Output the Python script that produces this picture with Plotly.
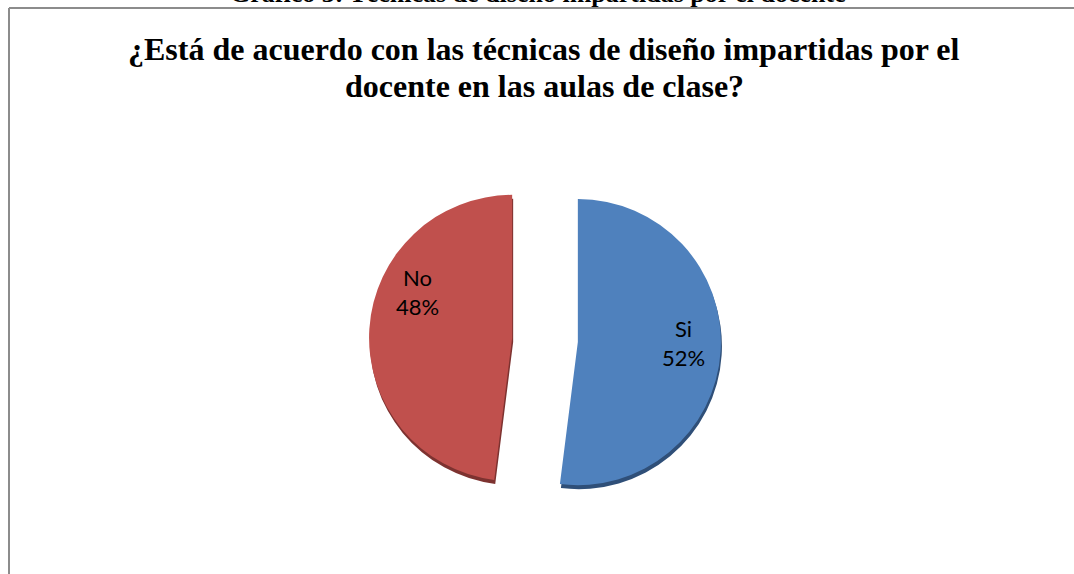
import plotly.graph_objects as go

labels = ["Si", "No"]
values = [52, 48]
colors = ["#4F81BD", "#C0504D"]
edge_colors = ["#2F4F78", "#7D3230"]
title_lines = ["¿Está de acuerdo con las técnicas de diseño impartidas por el",
               "docente en las aulas de clase?"]
caption = "Gráfico 3: Técnicas de diseño impartidas por el docente"

W, H = 1074, 574

def px_x(x):
    return x / W

def px_y(y):
    return 1 - y / H

# label anchor points (pixels) for each slice
label_pos = {"Si": (683, 343), "No": (417, 292)}

total = sum(values)
serif = "Liberation Serif, Times New Roman, serif"

fig = go.Figure()
# darker copy slightly lower: the 3D depth rim
fig.add_trace(go.Pie(
    labels=labels, values=values, sort=False, direction="clockwise", rotation=0,
    pull=[0.23, 0.23],
    marker=dict(colors=edge_colors, line=dict(width=0)),
    textinfo="none", hoverinfo="skip",
    domain=dict(x=[px_x(370), px_x(722)], y=[px_y(520), px_y(168)]),
    showlegend=False,
))
fig.add_trace(go.Pie(
    labels=labels, values=values, sort=False, direction="clockwise", rotation=0,
    pull=[0.23, 0.23],
    marker=dict(colors=colors, line=dict(width=0)),
    textinfo="none",
    domain=dict(x=[px_x(369), px_x(721)], y=[px_y(516), px_y(164)]),
    showlegend=False, hoverinfo="label+percent",
))

annotations = []
for i, t in enumerate(title_lines):
    annotations.append(dict(
        text="<b>" + t + "</b>", x=px_x(544), y=px_y([49, 86][i]), xref="paper", yref="paper",
        showarrow=False, font=dict(family=serif, size=32, color="#000"),
        xanchor="center", yanchor="middle"))
annotations.append(dict(
    text="<b>" + caption + "</b>", x=px_x(538), y=px_y(10), xref="paper", yref="paper",
    showarrow=False, font=dict(family=serif, size=26, color="#000"),
    xanchor="center", yanchor="bottom"))
for lab, v in zip(labels, values):
    x, y = label_pos[lab]
    annotations.append(dict(
        text=f"{lab}<br>{round(100 * v / total)}%", x=px_x(x), y=px_y(y), xref="paper", yref="paper",
        showarrow=False, font=dict(family="Lato, Noto Sans, sans-serif", size=22, color="#000"),
        xanchor="center", yanchor="middle", align="center"))

fig.update_layout(
    width=W, height=H,
    margin=dict(l=0, r=0, t=0, b=0),
    paper_bgcolor="white", plot_bgcolor="white",
    annotations=annotations,
    shapes=[
        dict(type="line", xref="paper", yref="paper", x0=px_x(9), x1=px_x(9), y0=0, y1=px_y(8),
             line=dict(color="#8c8c8c", width=2)),
        dict(type="line", xref="paper", yref="paper", x0=px_x(9), x1=1, y0=px_y(8), y1=px_y(8),
             line=dict(color="#8c8c8c", width=2)),
    ],
)

fig.write_html("out.html", config={"displayModeBar": False},
               post_script="document.body.style.margin='0px';")
